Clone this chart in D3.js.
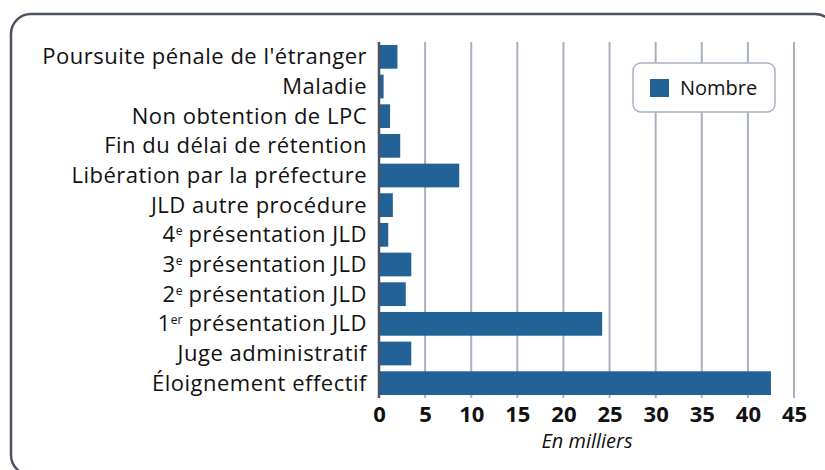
<html>
<head>
<meta charset="utf-8">
<script src="https://d3js.org/d3.v7.min.js"></script>
<style>
  body { margin: 0; background: #fff; }
  text { font-family: "Open Sans", sans-serif; fill: #111; }
</style>
</head>
<body>
<svg id="chart" width="825" height="470"></svg>
<script>
// categories top to bottom, "sup" holds the ordinal superscript
var categories = [
  {base: "Poursuite pénale de l'étranger"},
  {base: "Maladie"},
  {base: "Non obtention de LPC"},
  {base: "Fin du délai de rétention"},
  {base: "Libération par la préfecture"},
  {base: "JLD autre procédure"},
  {pre: "4", sup: "e", base: " présentation JLD"},
  {pre: "3", sup: "e", base: " présentation JLD"},
  {pre: "2", sup: "e", base: " présentation JLD"},
  {pre: "1", sup: "er", base: " présentation JLD"},
  {base: "Juge administratif"},
  {base: "Éloignement effectif"}
]
var values = [2.0, 0.5, 1.2, 2.3, 8.7, 1.5, 1.0, 3.5, 2.9, 24.2, 3.5, 42.5]
var xTicks = [0, 5, 10, 15, 20, 25, 30, 35, 40, 45]
var seriesName = "Nombre"
var axisTitle = "En milliers"

var svg = d3.select("#chart")
var plotLeft = 379, plotRight = 794, plotTop = 42, plotBottom = 398

// frame
svg.append("rect")
  .attr("x", 11).attr("y", 14).attr("width", 824).attr("height", 461)
  .attr("rx", 20).attr("ry", 20)
  .attr("fill", "none").attr("stroke", "#4b5262").attr("stroke-width", 2.5)

var x = d3.scaleLinear().domain([0, 45]).range([plotLeft, plotRight])
var y = d3.scaleBand().domain(d3.range(categories.length)).range([plotTop, plotBottom]).paddingInner(0.2).paddingOuter(0.1)

// gridlines
svg.append("g").selectAll("line")
  .data(xTicks.slice(1))
  .enter().append("line")
    .attr("x1", function(d) {return x(d)}).attr("x2", function(d) {return x(d)})
    .attr("y1", plotTop).attr("y2", plotBottom)
    .attr("stroke", "#a9b1c0").attr("stroke-width", 2)

// bars
svg.append("g").selectAll("rect")
  .data(values)
  .enter().append("rect")
    .attr("x", x(0))
    .attr("y", function(d, i) {return y(i)})
    .attr("width", function(d) {return x(d) - x(0)})
    .attr("height", y.bandwidth())
    .attr("fill", "#226296")

// axis line
svg.append("line")
  .attr("x1", plotLeft).attr("x2", plotLeft).attr("y1", plotTop).attr("y2", plotBottom)
  .attr("stroke", "#4b5262").attr("stroke-width", 2.5)

// category labels
var lab = svg.append("g").selectAll("text")
  .data(categories)
  .enter().append("text")
    .attr("x", 367)
    .attr("y", function(d, i) {return y(i) + y.bandwidth() / 2 + 7.5})
    .attr("text-anchor", "end")
    .style("font-size", "22px")
    .style("letter-spacing", "0.5px")
lab.each(function(d) {
  var t = d3.select(this)
  if (d.pre) {
    t.append("tspan").text(d.pre)
    t.append("tspan").text(d.sup).attr("dy", -7).style("font-size", "12px").style("letter-spacing", "0px")
    t.append("tspan").text(d.base).attr("dy", 7)
  } else {
    t.text(d.base)
  }
})

// x axis tick labels
var xAxis = d3.axisBottom(x).tickValues(xTicks).tickSize(0).tickPadding(8)
var ax = svg.append("g").attr("transform", "translate(0," + plotBottom + ")").call(xAxis)
ax.select(".domain").remove()
ax.selectAll("text")
  .style("font-family", "'Open Sans', sans-serif")
  .style("font-size", "22px").style("font-weight", "bold").attr("fill", "#111")

svg.append("text")
  .attr("x", 587).attr("y", 448)
  .attr("text-anchor", "middle")
  .style("font-size", "20px").style("font-style", "italic")
  .attr("fill", "#222")
  .text(axisTitle)

// legend
var lg = svg.append("g")
lg.append("rect")
  .attr("x", 633).attr("y", 63).attr("width", 142).attr("height", 49)
  .attr("rx", 8).attr("fill", "#fff").attr("stroke", "#a9b1c0").attr("stroke-width", 1.5)
lg.append("rect")
  .attr("x", 650).attr("y", 79).attr("width", 19).attr("height", 18).attr("fill", "#226296")
lg.append("text")
  .attr("x", 680).attr("y", 95)
  .style("font-size", "20px")
  .text(seriesName)
</script>
</body>
</html>
